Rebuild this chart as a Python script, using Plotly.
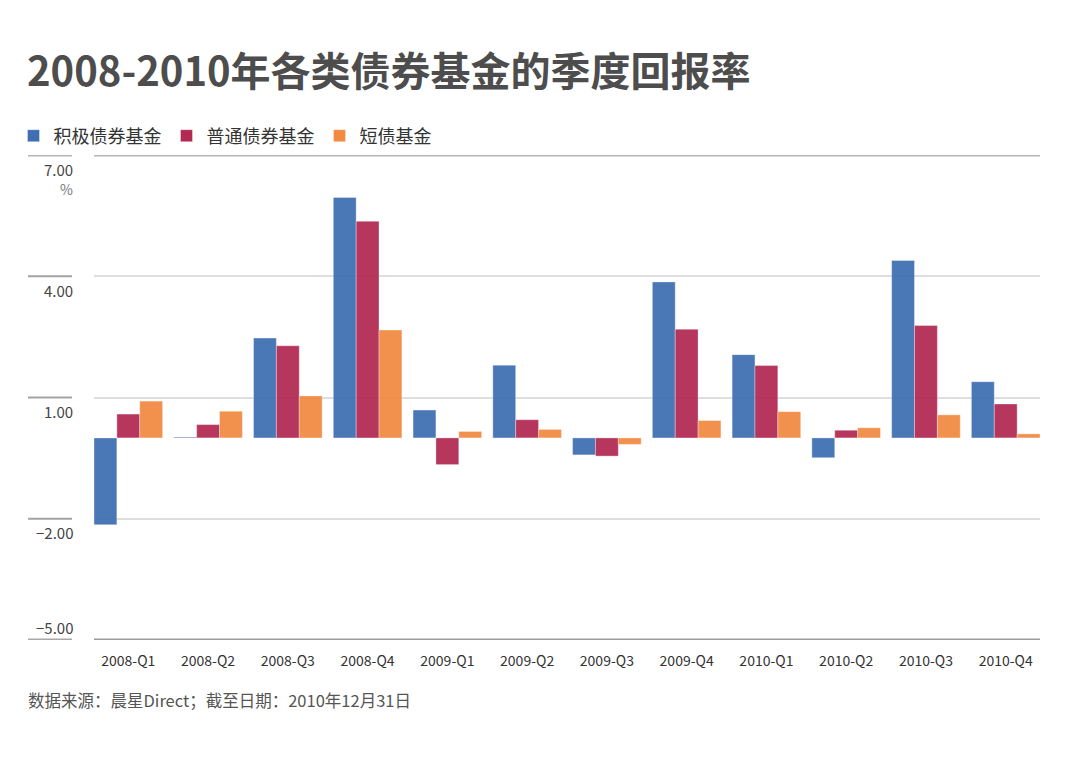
import plotly.graph_objects as go

quarters = ["2008-Q1", "2008-Q2", "2008-Q3", "2008-Q4",
            "2009-Q1", "2009-Q2", "2009-Q3", "2009-Q4",
            "2010-Q1", "2010-Q2", "2010-Q3", "2010-Q4"]
aggressive_bond = [-2.15, 0.02, 2.47, 5.95, 0.69, 1.80, -0.42, 3.86, 2.06, -0.49, 4.39, 1.39]
ordinary_bond = [0.59, 0.33, 2.28, 5.36, -0.66, 0.45, -0.45, 2.69, 1.79, 0.19, 2.78, 0.84]
short_bond = [0.91, 0.66, 1.04, 2.67, 0.16, 0.21, -0.16, 0.43, 0.65, 0.25, 0.57, 0.10]
series_names = ["积极债券基金", "普通债券基金", "短债基金"]
series_colors = ["#3f6fb2", "#b22a53", "#f28a42"]
y_ticks = [7, 4, 1, -2, -5]
y_tick_text = ["7.00", "4.00", "1.00", "−2.00", "−5.00"]

FONT = "Noto Sans CJK SC"
OFF = 8  # page body margin

fig = go.Figure()
for name, vals, col in zip(series_names, [aggressive_bond, ordinary_bond, short_bond], series_colors):
    fig.add_trace(go.Bar(
        x=quarters, y=vals, name=name,
        marker=dict(color=col, opacity=0.94,
                    line=dict(color="rgba(255,255,255,0.35)", width=1)),
    ))

# plot area spans x 94..1040 px, y 155..640 px (screen)
PW, PH = 946, 485
ML = 94 - OFF
left_x0 = (28 - 94) / PW
left_x1 = (72 - 94) / PW

shapes = []
for v in y_ticks:
    if v in (7, -5):
        pc, lc, w = ("#b5b5b5", "#b5b5b5", 3) if v == 7 else ("#9c9c9c", "#a8a8a8", 3)
        shapes.append(dict(type="line", xref="paper", yref="y", x0=0, x1=1, y0=v, y1=v,
                           line=dict(color=pc, width=w), layer="above"))
    else:
        lc, w = "#a3a3a3", 2
    shapes.append(dict(type="line", xref="paper", yref="y", x0=left_x0, x1=left_x1, y0=v, y1=v,
                       line=dict(color=lc, width=w)))

annotations = []
for v, t in zip(y_ticks, y_tick_text):
    annotations.append(dict(xref="paper", yref="y", x=left_x1 + 3 / PW, y=v, text=t,
                            xanchor="right", yanchor="middle", showarrow=False,
                            yshift=(13 if v == -5 else -14),
                            font=dict(family=FONT, size=15, color="#444444")))
annotations.append(dict(xref="paper", yref="y", x=left_x1 + 3 / PW, y=7, text="%",
                        xanchor="right", yanchor="middle", showarrow=False, yshift=-34,
                        font=dict(family=FONT, size=14, color="#777777")))
annotations.append(dict(xref="paper", yref="paper", x=left_x0 - 2 / PW, y=(640 - 700) / PH,
                        text="数据来源：晨星Direct；截至日期：2010年12月31日",
                        xanchor="left", yanchor="middle", showarrow=False,
                        font=dict(family=FONT, size=16.5, color="#555555")))

fig.update_layout(
    width=1080, height=757,
    margin=dict(l=ML, r=1080 - 1040 + OFF, t=155 - OFF, b=757 - 640 + OFF,
                autoexpand=False),
    paper_bgcolor="white", plot_bgcolor="white",
    barmode="group", bargap=0.14, bargroupgap=0,
    title=dict(text="<b>2008-2010年各类债券基金的季度回报率</b>",
               x=(28 - OFF - 1) / 1080, xanchor="left", xref="container",
               y=1 - (72 - OFF) / 757, yanchor="middle", yref="container",
               font=dict(family=FONT, size=40, color="#4d4d4d")),
    legend=dict(orientation="h", xref="paper", yref="paper",
                x=(5.5 - ML) / PW, xanchor="left",
                y=(640 - 136) / PH, yanchor="middle",
                font=dict(family=FONT, size=18, color="#333333"),
                itemwidth=30, traceorder="normal"),
    xaxis=dict(type="category", range=[-0.43, 11.43], showgrid=False,
               showline=False, zeroline=False,
               ticks="outside", ticklen=8, tickcolor="rgba(0,0,0,0)",
               tickfont=dict(family=FONT, size=14, color="#333333")),
    yaxis=dict(range=[-5, 7], tickvals=y_ticks, showticklabels=False,
               showgrid=True, gridcolor="#dedede", gridwidth=2,
               zeroline=False, showline=False),
    shapes=shapes, annotations=annotations,
    font=dict(family=FONT),
)

fig.write_html("out.html")
